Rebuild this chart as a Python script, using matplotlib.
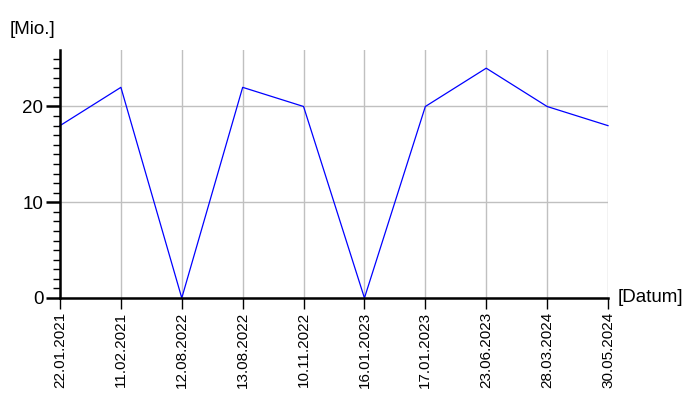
import matplotlib
matplotlib.use("Agg")
import matplotlib.pyplot as plt
from matplotlib.ticker import MultipleLocator

dates = ["22.01.2021", "11.02.2021", "12.08.2022", "13.08.2022", "10.11.2022",
         "16.01.2023", "17.01.2023", "23.06.2023", "28.03.2024", "30.05.2024"]
values = [18, 22, 0, 22, 20, 0, 20, 24, 20, 18]

plt.rcParams['font.family'] = ['Liberation Sans', 'DejaVu Sans']

fig = plt.figure(figsize=(7, 4), dpi=100)
ax = fig.add_axes([60/700, 1 - 298/400, 548/700, 248/400])

x = list(range(len(dates)))
ax.plot(x, values, color='#0000ff', lw=0.9, zorder=3, clip_on=False)

ax.set_xlim(0, len(dates) - 1)
ax.set_ylim(0, 25.9)
ax.set_xticks(x)
ax.set_xticklabels(dates, rotation=90, fontsize=11)
ax.set_yticks([0, 10, 20])
ax.yaxis.set_minor_locator(MultipleLocator(1))
ax.tick_params(axis='y', which='major', labelsize=13.5, length=10, width=1.8, pad=2, direction='out')
ax.tick_params(axis='y', which='minor', length=5, width=1.0, direction='out')
ax.tick_params(axis='x', which='major', length=8, width=1.0, pad=2, direction='out')

ax.grid(True, which='major', axis='both', color='#c0c0c0', lw=1.0, zorder=1)
for s in ['top', 'right']:
    ax.spines[s].set_visible(False)
for s in ['left', 'bottom']:
    ax.spines[s].set_linewidth(1.8)
    ax.spines[s].set_zorder(4)

fig.text(10/700, 1 - 30/400, "[Mio.]", fontsize=13.5, va='center', ha='left')
fig.text(618/700, 1 - 298/400, "[Datum]", fontsize=13.5, va='center', ha='left')

fig.savefig("out.png", dpi=100)
